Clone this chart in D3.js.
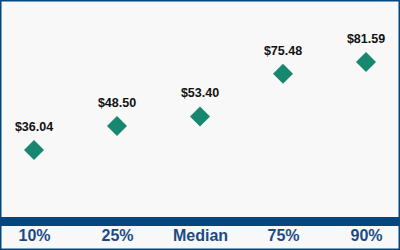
<!DOCTYPE html>
<html>
<head>
<meta charset="utf-8">
<script src="https://cdn.jsdelivr.net/npm/d3@7"></script>
<style>
  body { margin: 0; background: #fff; }
</style>
</head>
<body>
<div id="chart"></div>
<script>
var categories = ["10%", "25%", "Median", "75%", "90%"];
var values = [36.04, 48.50, 53.40, 75.48, 81.59];
var valueLabels = ["$36.04", "$48.50", "$53.40", "$75.48", "$81.59"];

var width = 400, height = 250;
var navy = "#00467f";

var svg = d3.select("#chart").append("svg")
    .attr("width", width)
    .attr("height", height);

// background + frame
svg.append("rect")
    .attr("x", 0.75).attr("y", 0.75)
    .attr("width", width - 1.5).attr("height", height - 1.5)
    .style("fill", "#f8f8f8")
    .style("stroke", navy)
    .style("stroke-width", 1.5);

var x = d3.scalePoint()
    .domain(categories)
    .range([34, 366]);

var y = d3.scaleLinear()
    .domain([0, 100])
    .range([219.6, 26.4]);

// thick baseline bar
svg.append("rect")
    .attr("x", 0).attr("y", 217)
    .attr("width", width).attr("height", 9)
    .style("fill", navy);

// category axis
var xAxis = svg.append("g")
    .attr("transform", "translate(0,226)")
    .call(d3.axisBottom(x).tickSize(0).tickPadding(3.5));
xAxis.select(".domain").remove();
xAxis.selectAll("text")
    .style("font-family", "'Liberation Sans', Arial, sans-serif")
    .style("font-weight", "bold")
    .style("font-size", "16px")
    .style("fill", "#1d4a85");

var data = categories.map(function(c, i) {
  return { cat: c, value: values[i], label: valueLabels[i] };
});

var diamond = d3.symbol().type(d3.symbolSquare).size(200);

svg.selectAll("path.pt")
    .data(data)
    .enter().append("path")
    .attr("class", "pt")
    .attr("d", diamond)
    .attr("transform", function(d) { return "translate(" + x(d.cat) + "," + y(d.value) + ") rotate(45)"; })
    .style("fill", "#17876f");

svg.selectAll("text.lbl")
    .data(data)
    .enter().append("text")
    .attr("class", "lbl")
    .attr("x", function(d) { return x(d.cat); })
    .attr("y", function(d) { return y(d.value) - 19; })
    .attr("text-anchor", "middle")
    .style("font-family", "'Liberation Sans', Arial, sans-serif")
    .style("font-weight", "bold")
    .style("font-size", "12.5px")
    .style("fill", "#111")
    .text(function(d) { return d.label; });
</script>
</body>
</html>
